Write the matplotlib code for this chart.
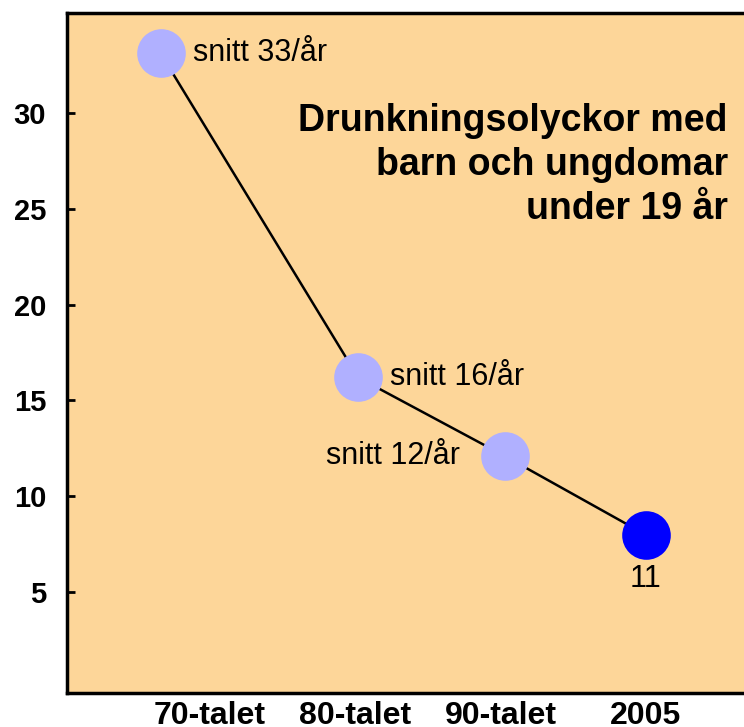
import matplotlib.pyplot as plt

# data
periods = ["70-talet", "80-talet", "90-talet", "2005"]
label_pos = [1, 2, 3, 4]
x_pos = [0.66, 2.02, 3.03, 4.0]
values = [33.1, 16.2, 12.1, 8.0]
labels = ["snitt 33/år", "snitt 16/år", "snitt 12/år", "11"]
point_colors = ["#B0B0FF", "#B0B0FF", "#B0B0FF", "#0000FF"]
y_ticks = [5, 10, 15, 20, 25, 30]

plt.rcParams['font.family'] = ['Liberation Sans', 'DejaVu Sans']

fig = plt.figure(figsize=(7.44, 7.27), dpi=100)
ax = fig.add_axes([67 / 744, 34 / 727, 1 - 67 / 744 + 0.01, 680 / 727])
ax.set_facecolor("#FDD699")

ax.plot(x_pos, values, color="black", linewidth=1.8, zorder=2)
for x, y, c in zip(x_pos, values, point_colors):
    ax.plot(x, y, marker="o", markersize=35, color=c, markeredgewidth=0, zorder=3)

# point labels
fs = 22
ax.annotate(labels[0], (x_pos[0], values[0]), xytext=(23, 0), textcoords="offset points",
            ha="left", va="center", fontsize=fs)
ax.annotate(labels[1], (x_pos[1], values[1]), xytext=(23, 0), textcoords="offset points",
            ha="left", va="center", fontsize=fs)
ax.annotate(labels[2], (x_pos[2], values[2]), xytext=(-32, 0), textcoords="offset points",
            ha="right", va="center", fontsize=fs)
ax.annotate(labels[3], (x_pos[3], values[3]), xytext=(0, -32), textcoords="offset points",
            ha="center", va="center", fontsize=fs)

ax.text(0.9655, 0.868, "Drunkningsolyckor med\nbarn och ungdomar\nunder 19 år",
        transform=ax.transAxes, ha="right", va="top", fontsize=27,
        fontweight="bold", linespacing=1.29)

ax.set_xlim(0.016, 4.727)
ax.set_ylim(-0.25, 35.2)
ax.set_xticks(label_pos)
ax.set_xticklabels(periods, fontsize=23, fontweight="bold")
ax.set_yticks(y_ticks)
ax.set_yticklabels([str(t) for t in y_ticks], fontsize=21, fontweight="bold")
ax.tick_params(axis="x", length=0, pad=6)
ax.tick_params(axis="y", direction="in", length=6, width=2, pad=15)

ax.spines["right"].set_visible(False)
for s in ["left", "top", "bottom"]:
    ax.spines[s].set_linewidth(2.5)

plt.savefig("out.png", dpi=100)
